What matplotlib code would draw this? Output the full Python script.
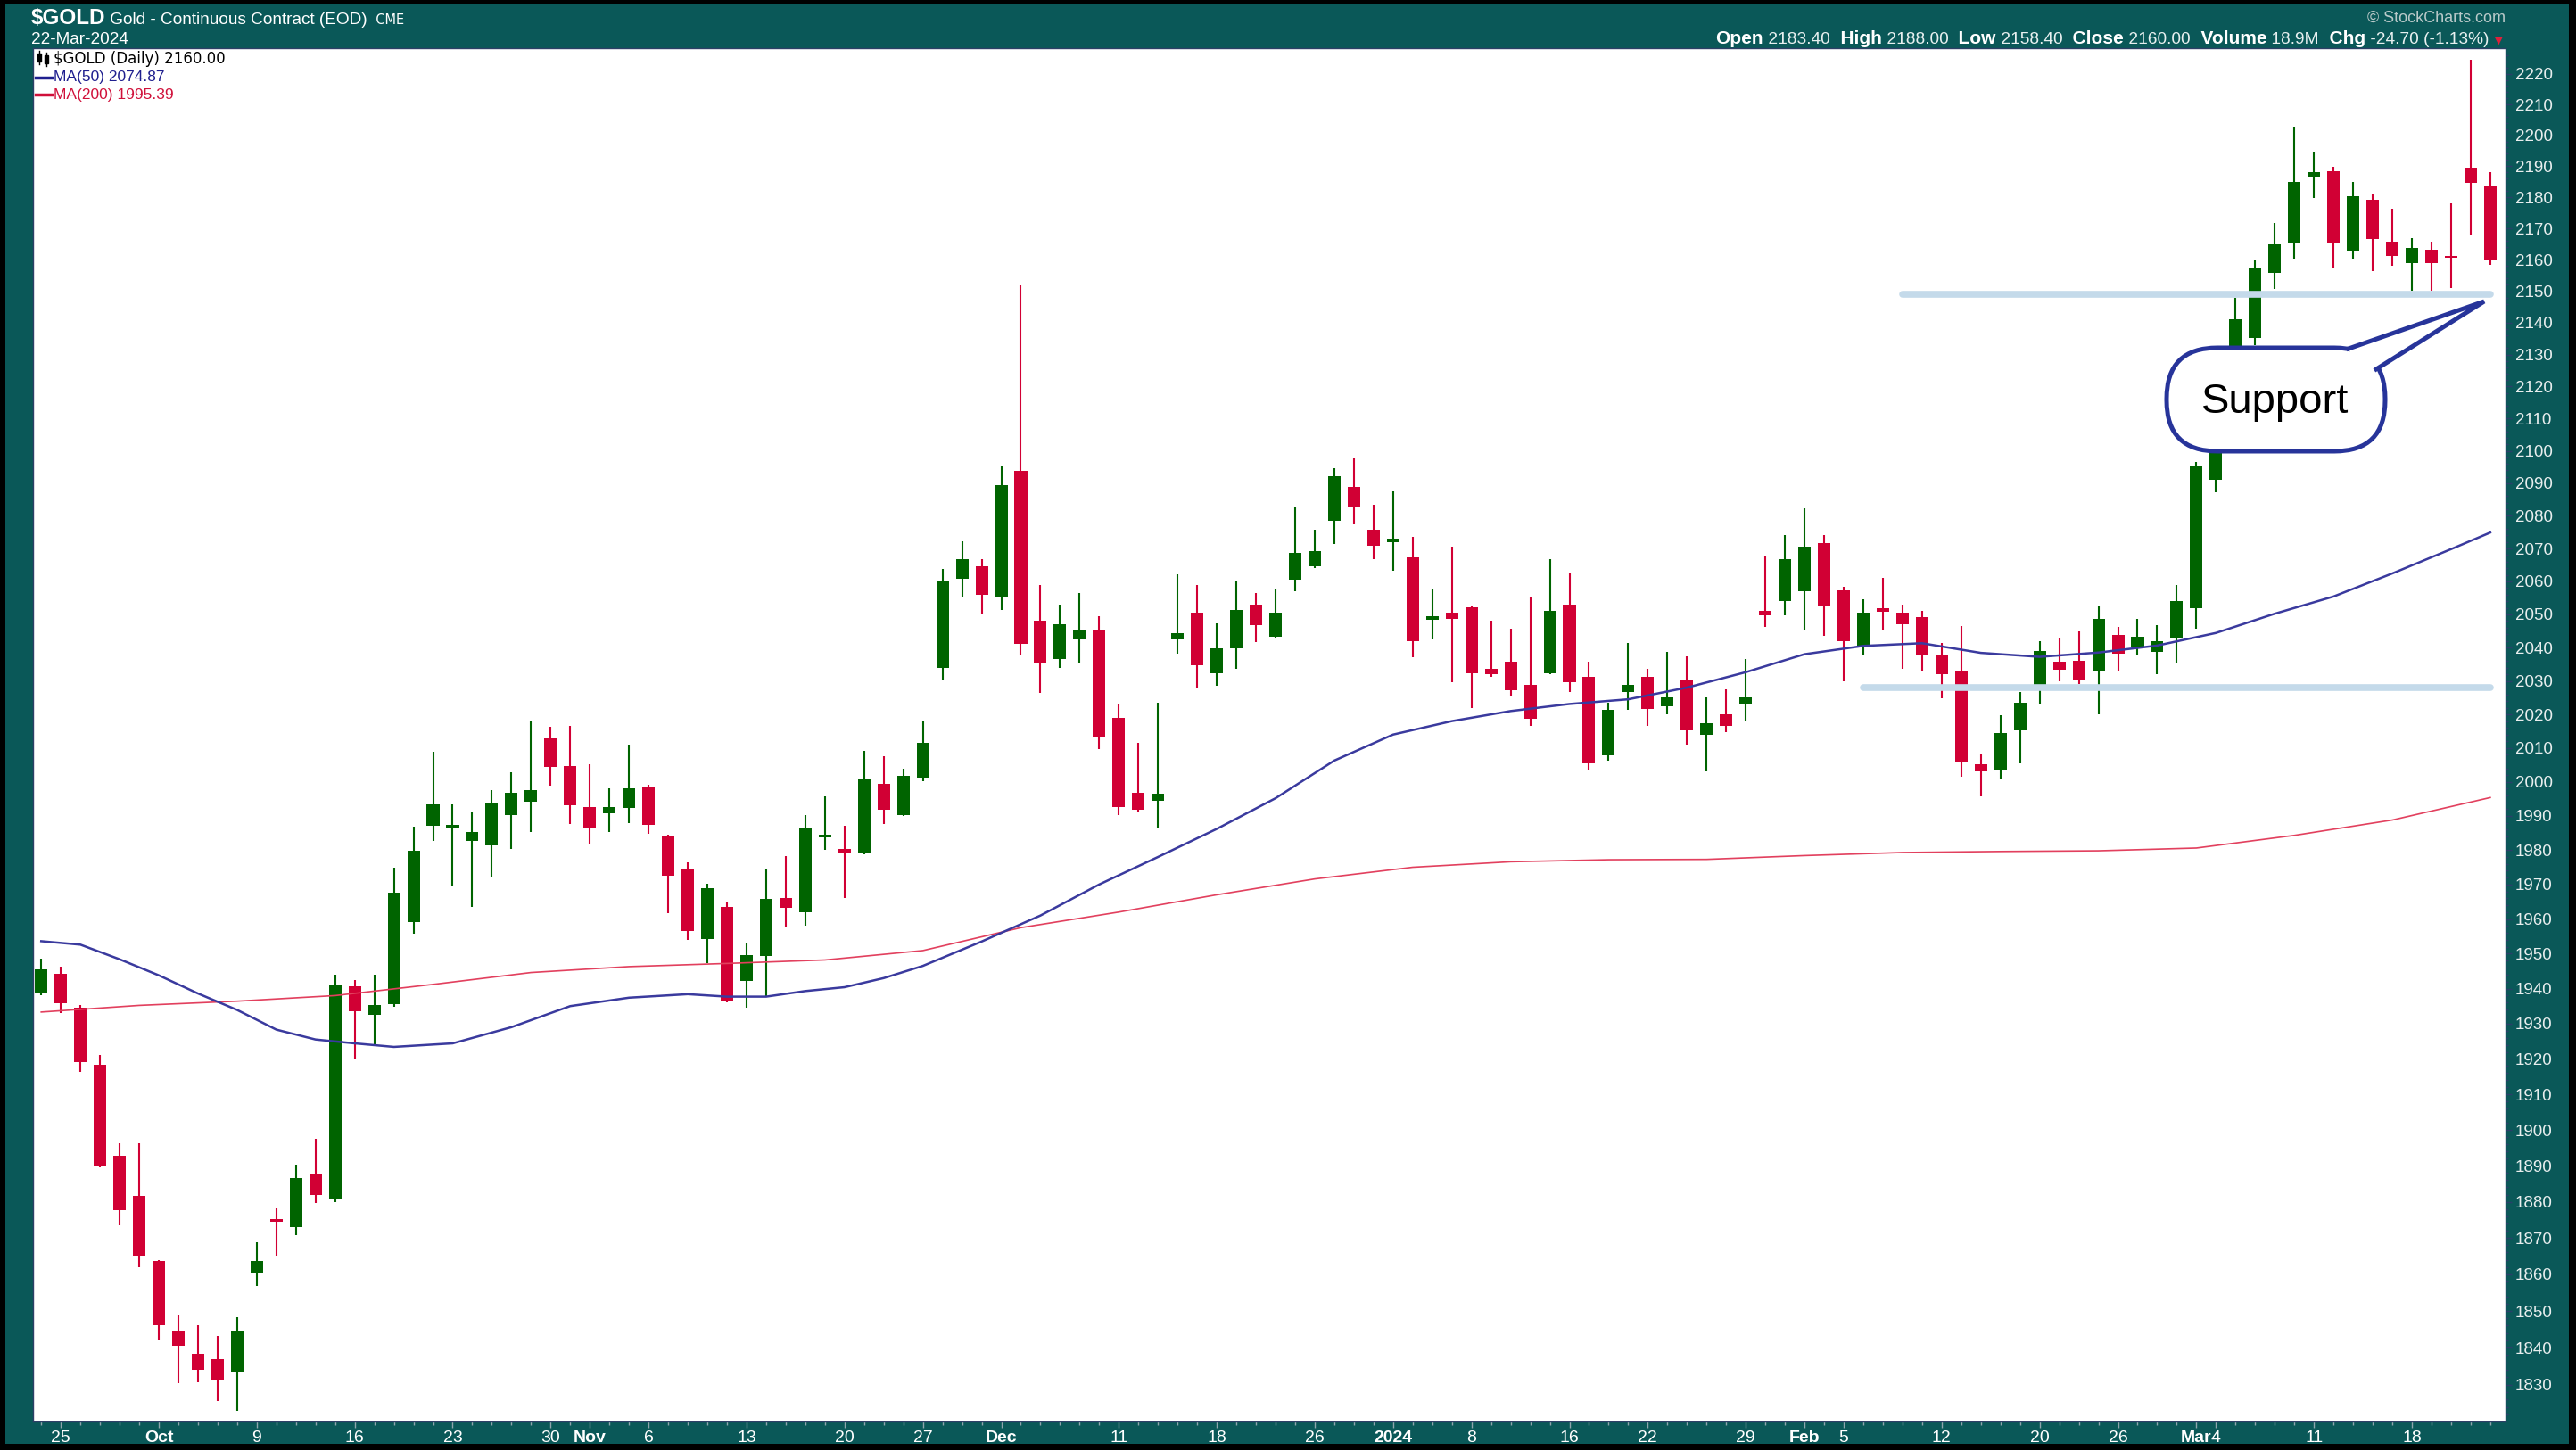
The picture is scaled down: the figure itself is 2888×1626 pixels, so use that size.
import numpy as np
import pandas as pd
import matplotlib
matplotlib.use("Agg")
import matplotlib.pyplot as plt
from matplotlib.patches import Rectangle, Polygon, FancyBboxPatch
from matplotlib.lines import Line2D
from matplotlib.ticker import FixedLocator, NullFormatter, FuncFormatter
from matplotlib.transforms import IdentityTransform

W, H = 2888, 1626
NARROW = ["Liberation Sans Narrow", "Liberation Sans", "DejaVu Sans"]
ARIAL = ["Liberation Sans", "DejaVu Sans"]

# trading days 22-Sep-2023 .. 22-Mar-2024
holidays = ["2023-11-23", "2023-12-25", "2024-01-01", "2024-01-15", "2024-02-19"]
dates = pd.bdate_range("2023-09-22", "2024-03-22")
dates = dates[~dates.isin(pd.to_datetime(holidays))]

opens = [
    1938.5, 1944.3, 1934.6, 1918.3, 1892.7, 1881.7, 1863.6, 1844.3, 1838.3, 1836.9,
    1833.2, 1860.4, 1875.2, 1872.9, 1887.6, 1880.6, 1940.7, 1932.6, 1935.5, 1959.0,
    1987.1, 1986.5, 1982.8, 1981.4, 1990.3, 1994.2, 2012.8, 2004.7, 1992.5, 1990.8,
    1992.3, 1998.6, 1984.1, 1974.6, 1954.3, 1963.5, 1942.3, 1949.3, 1966.2, 1961.9,
    1983.6, 1980.3, 1979.0, 1999.5, 1990.3, 2001.2, 2034.0, 2060.8, 2064.7, 2055.4,
    2093.8, 2048.0, 2036.5, 2042.4, 2045.2, 2019.0, 1996.7, 1994.4, 2042.4, 2050.5,
    2032.2, 2039.8, 2052.9, 2043.3, 2060.4, 2064.7, 2078.6, 2088.9, 2075.6, 2071.8,
    2067.3, 2048.3, 2050.5, 2052.1, 2033.6, 2035.7, 2028.9, 2032.4, 2053.0, 2031.3,
    2007.8, 2026.8, 2031.3, 2022.3, 2030.4, 2013.8, 2020.1, 2023.3, 2051.0, 2054.1,
    2057.0, 2071.7, 2057.3, 2040.4, 2052.0, 2050.4, 2049.1, 2037.5, 2033.1, 2005.2,
    2003.6, 2015.3, 2028.9, 2035.7, 2036.1, 2033.1, 2043.7, 2040.4, 2038.6, 2043.1,
    2051.8, 2091.0, 2126.0, 2135.3, 2155.8, 2165.5, 2186.6, 2188.4, 2163.0, 2179.2,
    2165.8, 2158.9, 2163.1, 2161.0, 2189.4, 2183.4]
highs = [
    1948.5, 1946.2, 1935.2, 1921.0, 1896.2, 1896.2, 1863.8, 1848.7, 1846.1, 1843.1,
    1848.2, 1868.9, 1878.1, 1890.3, 1897.5, 1943.9, 1942.4, 1943.9, 1975.0, 1986.9,
    2008.8, 1993.4, 1991.1, 1997.6, 2002.8, 2018.2, 2016.2, 2016.6, 2005.2, 1998.2,
    2010.9, 1999.1, 1984.5, 1976.4, 1970.3, 1964.8, 1953.0, 1974.6, 1978.3, 1990.2,
    1995.7, 1987.0, 2009.2, 2007.7, 2003.9, 2018.2, 2063.7, 2072.1, 2066.7, 2095.2,
    2151.8, 2058.8, 2052.9, 2056.4, 2049.5, 2022.9, 2011.5, 2023.4, 2062.1, 2058.8,
    2047.2, 2060.3, 2056.4, 2057.5, 2082.5, 2075.6, 2094.6, 2097.8, 2083.4, 2087.4,
    2073.6, 2057.5, 2070.6, 2052.7, 2048.1, 2045.7, 2055.3, 2066.7, 2062.3, 2035.7,
    2023.5, 2041.3, 2033.7, 2038.6, 2037.4, 2025.0, 2027.4, 2036.6, 2067.6, 2074.1,
    2082.4, 2074.1, 2058.4, 2054.5, 2061.0, 2053.0, 2051.0, 2041.3, 2046.6, 2008.2,
    2019.7, 2026.6, 2041.8, 2042.9, 2044.8, 2052.4, 2046.3, 2048.6, 2046.7, 2058.9,
    2096.5, 2130.0, 2148.0, 2160.0, 2171.6, 2202.8, 2194.6, 2189.8, 2184.9, 2180.8,
    2176.4, 2166.9, 2165.8, 2178.0, 2224.7, 2188.0]
lows = [
    1938.0, 1933.1, 1916.3, 1889.6, 1873.6, 1861.9, 1841.9, 1830.3, 1830.7, 1825.5,
    1822.9, 1856.9, 1865.2, 1870.8, 1879.7, 1880.0, 1920.2, 1924.0, 1934.9, 1955.7,
    1982.8, 1969.7, 1963.6, 1972.4, 1980.3, 1985.2, 1998.8, 1987.6, 1982.0, 1985.2,
    1987.9, 1984.7, 1961.7, 1953.9, 1947.3, 1936.0, 1934.6, 1937.7, 1957.6, 1958.1,
    1980.0, 1966.0, 1978.8, 1987.6, 1989.9, 2000.1, 2030.2, 2055.1, 2050.3, 2051.4,
    2037.5, 2026.5, 2034.0, 2035.6, 2009.7, 1990.3, 1991.1, 1986.5, 2038.2, 2028.0,
    2028.6, 2033.6, 2041.6, 2042.7, 2056.9, 2064.0, 2071.5, 2077.5, 2066.7, 2063.2,
    2037.0, 2042.4, 2029.7, 2021.8, 2031.1, 2025.3, 2016.7, 2032.0, 2026.6, 2003.4,
    2006.2, 2021.3, 2016.7, 2020.0, 2011.1, 2003.1, 2014.7, 2018.0, 2046.3, 2049.8,
    2045.4, 2043.5, 2029.9, 2037.7, 2045.4, 2033.7, 2033.1, 2024.9, 2001.6, 1995.8,
    2001.0, 2005.4, 2022.9, 2029.9, 2029.1, 2020.1, 2033.0, 2037.9, 2032.1, 2035.2,
    2045.8, 2087.1, 2118.0, 2133.0, 2150.6, 2160.4, 2179.8, 2157.3, 2160.4, 2156.4,
    2158.0, 2150.2, 2150.2, 2151.0, 2167.6, 2158.4]
closes = [
    1945.4, 1935.8, 1919.0, 1890.1, 1877.7, 1865.2, 1846.2, 1840.6, 1834.1, 1831.1,
    1844.7, 1863.6, 1874.4, 1886.7, 1881.9, 1941.2, 1933.5, 1935.2, 1967.6, 1979.9,
    1993.4, 1987.3, 1985.4, 1993.8, 1996.8, 1997.6, 2004.5, 1993.2, 1986.7, 1992.5,
    1998.2, 1987.5, 1972.5, 1956.6, 1968.9, 1936.6, 1949.5, 1965.8, 1963.3, 1986.3,
    1984.0, 1979.2, 2001.0, 1991.9, 2001.9, 2011.6, 2060.0, 2066.7, 2056.0, 2089.4,
    2041.0, 2035.2, 2047.1, 2045.5, 2013.2, 1992.5, 1991.9, 1996.5, 2044.3, 2034.7,
    2039.8, 2051.4, 2046.7, 2050.5, 2068.6, 2069.2, 2092.3, 2082.5, 2070.7, 2073.0,
    2041.8, 2049.5, 2048.6, 2032.4, 2031.9, 2027.1, 2018.6, 2051.0, 2029.5, 2005.6,
    2021.3, 2028.9, 2021.5, 2025.0, 2015.3, 2017.3, 2016.7, 2025.0, 2049.8, 2066.7,
    2070.6, 2052.7, 2042.0, 2050.5, 2050.8, 2046.9, 2037.7, 2031.9, 2006.1, 2003.2,
    2014.5, 2023.5, 2038.9, 2033.4, 2030.2, 2048.5, 2038.2, 2043.3, 2041.8, 2054.1,
    2095.2, 2126.0, 2141.0, 2157.5, 2164.8, 2184.9, 2188.0, 2165.2, 2180.3, 2166.6,
    2161.1, 2163.7, 2158.9, 2160.5, 2184.7, 2160.0]
volume_text = "18.9M"

# moving averages (candle index, value)
ma50_x = [0, 2, 4, 6, 8, 10, 12, 14, 16, 18, 21, 24, 27, 30, 33, 35, 37, 39, 41, 43,
          45, 48, 51, 54, 57, 60, 63, 66, 69, 72, 75, 78, 81, 84, 87, 90, 93, 96, 99,
          102, 105, 108, 111, 114, 117, 120, 123, 125]
ma50 = [1953.6, 1952.6, 1948.4, 1943.8, 1938.6, 1933.9, 1928.3, 1925.5, 1924.4, 1923.4,
        1924.4, 1929.0, 1935.0, 1937.4, 1938.4, 1937.7, 1937.7, 1939.3, 1940.4, 1943.0,
        1946.5, 1953.5, 1961.0, 1970.0, 1978.0, 1986.2, 1995.2, 2006.3, 2014.0, 2018.0,
        2021.0, 2023.1, 2024.5, 2028.0, 2032.6, 2038.0, 2040.5, 2041.3, 2038.4, 2037.2,
        2038.5, 2040.6, 2044.4, 2050.2, 2055.4, 2062.4, 2069.8, 2074.87]
ma200_x = [0, 5, 10, 15, 20, 25, 30, 35, 40, 45, 50, 55, 60, 65, 70, 75, 80, 85, 90,
           95, 100, 105, 110, 115, 120, 125]
ma200 = [1933.3, 1935.2, 1936.4, 1938.0, 1941.2, 1944.6, 1946.3, 1947.2, 1948.2, 1950.9,
         1957.5, 1962.0, 1967.0, 1971.6, 1975.0, 1976.6, 1977.2, 1977.3, 1978.4, 1979.3,
         1979.6, 1979.8, 1980.6, 1984.3, 1988.8, 1995.39]

support_levels = [2149, 2028]
support_from = ["2024-02-08", "2024-02-06"]

tick_dates = ["2023-09-25", "2023-10-02", "2023-10-09", "2023-10-16", "2023-10-23",
              "2023-10-30", "2023-11-01", "2023-11-06", "2023-11-13", "2023-11-20",
              "2023-11-27", "2023-12-01", "2023-12-11", "2023-12-18", "2023-12-26",
              "2024-01-02", "2024-01-08", "2024-01-16", "2024-01-22", "2024-01-29",
              "2024-02-01", "2024-02-05", "2024-02-12", "2024-02-20", "2024-02-26",
              "2024-03-01", "2024-03-04", "2024-03-11", "2024-03-18"]
tick_labels = ["25", "Oct", "9", "16", "23", "30", "Nov", "6", "13", "20", "27", "Dec",
               "11", "18", "26", "2024", "8", "16", "22", "29", "Feb", "5", "12", "20",
               "26", "Mar", "4", "11", "18"]
bold_labels = ["Oct", "Nov", "Dec", "2024", "Feb", "Mar"]

GREEN = "#006400"
RED = "#d10034"
TEAL = "#0a5858"

fig = plt.figure(figsize=(W / 100, H / 100), dpi=100, facecolor="black")
fig.patches.append(Rectangle((6 / W, 7 / H), 2874 / W, 1614 / H, transform=fig.transFigure,
                             facecolor=TEAL, edgecolor="none", zorder=-10))

ax = fig.add_axes([37 / W, 32 / H, 2772 / W, 1540 / H])
ax.set_facecolor("white")
ax.set_yscale("log")

x = np.arange(len(dates))
o = np.array(opens)
c = np.array(closes)
colors = np.where(c >= o, GREEN, RED)
ax.vlines(x, lows, highs, colors=colors, lw=1.5, zorder=2)
ax.bar(x, np.maximum(np.abs(c - o), 0.8), bottom=np.minimum(o, c), width=0.64,
       color=colors, linewidth=0, zorder=3)

ax.plot(ma200_x, ma200, color="#e2405e", lw=1.2, zorder=4)
ax.plot(ma50_x, ma50, color="#3a3a9e", lw=1.8, zorder=4)

for lvl, start in zip(support_levels, support_from):
    ax.plot([dates.get_loc(pd.Timestamp(start)), len(dates) - 1], [lvl, lvl],
            color="#c4daea", lw=5.5, solid_capstyle="round", zorder=5)

ax.set_xlim(-0.42, 125.78)
ax.set_ylim(1820.1, 2228.4)

ax.yaxis.tick_right()
ax.yaxis.set_major_locator(FixedLocator(np.arange(1830, 2221, 10)))
ax.yaxis.set_minor_locator(FixedLocator(np.arange(1822, 2228, 2)))
ax.yaxis.set_major_formatter(FuncFormatter(lambda v, p: f"{v:.0f}"))
ax.yaxis.set_minor_formatter(NullFormatter())
ax.tick_params(axis="y", which="major", direction="out", length=5, width=1,
               color="#2a3f6a", labelsize=13.5, labelcolor="#e8eeee", pad=3)
ax.tick_params(axis="y", which="minor", direction="out", length=2.5, width=1, color="#2a3f6a")
for lab in ax.get_yticklabels():
    lab.set_family(ARIAL)

tick_pos = [dates.get_loc(pd.Timestamp(d)) for d in tick_dates]
ax.set_xticks(tick_pos)
ax.set_xticklabels(tick_labels, fontfamily=NARROW)
ax.set_xticks(x, minor=True)
for lab, txt in zip(ax.get_xticklabels(), tick_labels):
    if txt in bold_labels:
        lab.set_fontweight("bold")
ax.tick_params(axis="x", which="major", length=5, width=1, color="#8fa5ad",
               labelsize=14, labelcolor="white", pad=2)
ax.tick_params(axis="x", which="minor", length=3, width=1, color="#8fa5ad")
for sp in ax.spines.values():
    sp.set_color("#2d3f66")
    sp.set_linewidth(1)

renderer = fig.canvas.get_renderer()


def run(pieces, x0, y_base, align="left"):
    arts = [fig.text(0, 1 - y_base / H, s, fontsize=fs, fontweight=wt, color=col,
                     family=fam, va="baseline", ha="left")
            for s, fs, wt, col, fam in pieces]
    widths = [a.get_window_extent(renderer=renderer).width for a in arts]
    xx = x0 - sum(widths) if align == "right" else x0
    for a, w in zip(arts, widths):
        a.set_x(xx / W)
        xx += w


# header
run([("$GOLD", 17.5, "bold", "white", NARROW),
     (" Gold - Continuous Contract (EOD)", 13.7, "normal", "white", NARROW),
     ("  CME", 10.5, "normal", "white", ["DejaVu Sans"])], 35, 27)
run([("22-Mar-2024", 13.7, "normal", "white", NARROW)], 35, 49)
run([("© StockCharts.com", 13, "normal", "#b9c9c9", NARROW)], 2809, 25, align="right")

chg = closes[-1] - closes[-2]
pct = chg / closes[-2] * 100
hdr = []
for name, val in [("Open", f"{opens[-1]:.2f}"), ("High", f"{highs[-1]:.2f}"),
                  ("Low", f"{lows[-1]:.2f}"), ("Close", f"{closes[-1]:.2f}"),
                  ("Volume", volume_text), ("Chg", f"{chg:.2f} ({pct:.2f}%)")]:
    hdr.append(("  " + name if hdr else name, 15, "bold", "white", NARROW))
    hdr.append((" " + val, 13.8, "normal", "#e8f0f0", NARROW))
hdr.append(("  ▼", 8, "normal", "#e0203c", ["DejaVu Sans"]))
run(hdr, 2806, 49, align="right")

# legend inside plot
ident = IdentityTransform()
for bx, by, bh in [(42, 60, 9), (50, 62, 9)]:
    fig.add_artist(Rectangle((bx, H - by - bh), 4, bh, transform=ident, color="black", zorder=11))
    fig.add_artist(Line2D([bx + 2, bx + 2], [H - by - bh - 3, H - by + 3], transform=ident,
                          color="black", lw=1, zorder=11))
fig.text(60 / W, 1 - 66 / H, f"$GOLD (Daily) {closes[-1]:.2f}", fontsize=12, color="black",
         family=["DejaVu Sans"], va="center", zorder=11)
for yy, col, txt in [(87, "#1f1f8f", f"MA(50) {ma50[-1]:.2f}"),
                     (106, "#d0103a", f"MA(200) {ma200[-1]:.2f}")]:
    fig.add_artist(Line2D([40, 58], [H - yy, H - yy], transform=ident, color=col, lw=2.5, zorder=11))
    fig.text(60 / W, 1 - yy / H, txt, fontsize=12.5, color=col, family=NARROW, va="center", zorder=11)

# callout bubble
EDGE = "#27349a"
fig.add_artist(FancyBboxPatch((2429, H - 506), 245, 116, boxstyle="round,pad=0,rounding_size=57",
                              transform=ident, facecolor="white", edgecolor=EDGE, lw=3.6, zorder=12))
tip = (2785, H - 338)
b1 = (2633, H - 391)
b2 = (2664, H - 414)
fig.add_artist(Polygon([b1, tip, b2, (2640, H - 406)], closed=True, transform=ident,
                       facecolor="white", edgecolor="none", zorder=13))
fig.add_artist(Line2D([b1[0], tip[0], b2[0]], [b1[1], tip[1], b2[1]], transform=ident,
                      color=EDGE, lw=3.6, solid_joinstyle="miter", zorder=14))
fig.text(2551 / W, 1 - 451 / H, "Support", ha="center", va="center", fontsize=34,
         family=ARIAL, color="black", zorder=15)

fig.savefig("out.png", dpi=100, facecolor=fig.get_facecolor())
